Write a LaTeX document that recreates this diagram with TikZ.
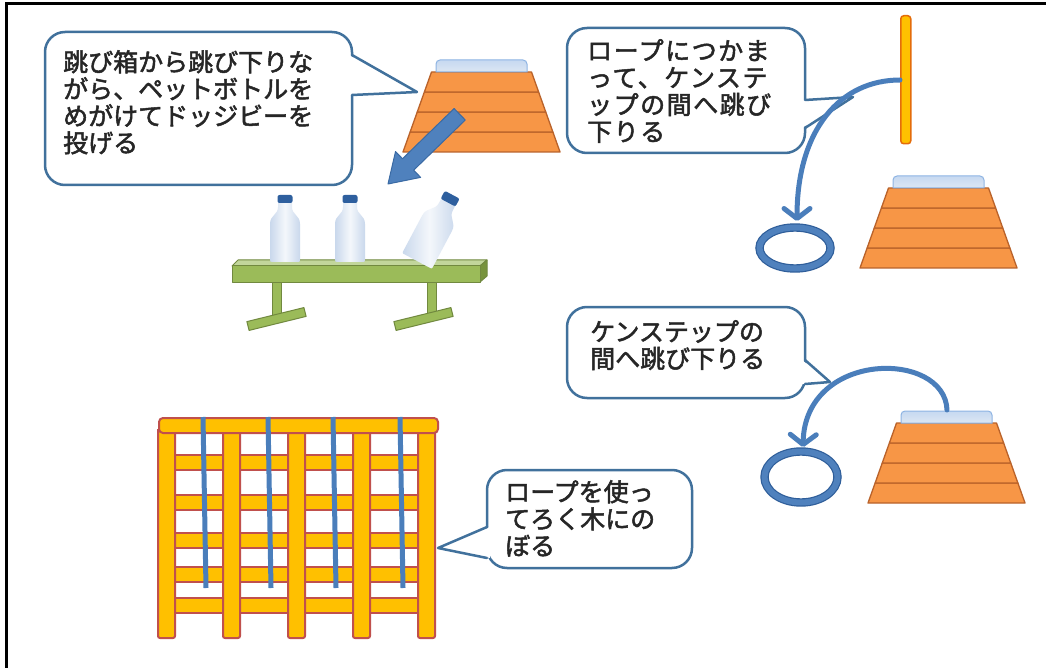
\documentclass[tikz,border=0pt]{standalone}
\usepackage{fontspec}
\newfontfamily\jpfont{Noto Sans CJK JP}[FakeBold=2]
\usetikzlibrary{arrows.meta}
\definecolor{bubbleblue}{HTML}{41719C}
\definecolor{arcblue}{HTML}{4A7EBB}
\definecolor{ringdark}{HTML}{2F5E9A}
\definecolor{ringblue}{HTML}{4F81BD}
\definecolor{layerfill}{HTML}{F79646}
\definecolor{layerline}{HTML}{B9622A}
\definecolor{cushiontop}{HTML}{C6D9F1}
\definecolor{cushionbot}{HTML}{DCE6F2}
\definecolor{cushionline}{HTML}{8EB4E3}
\definecolor{woodfill}{HTML}{FFC000}
\definecolor{woodline}{HTML}{C0504D}
\definecolor{poleline}{HTML}{E46C0A}
\definecolor{benchfront}{HTML}{9BBB59}
\definecolor{benchtop}{HTML}{C2D69B}
\definecolor{benchside}{HTML}{77933C}
\definecolor{benchline}{HTML}{71893F}
\definecolor{bottleedge}{HTML}{C9D8EC}
\definecolor{bottlemid}{HTML}{F4F7FB}
\definecolor{capblue}{HTML}{2E5F9E}
\definecolor{discfill}{HTML}{4F81BD}
\definecolor{discline}{HTML}{3A6AA4}
\tikzset{
  bubble/.style={draw=bubbleblue, line width=2.5pt, fill=white, rounded corners=20pt,
    inner sep=0pt, outer sep=0pt, anchor=north west},
  tailline/.style={draw=bubbleblue, line width=2.5pt, line join=round, line cap=round},
  jptext/.style={font=\jpfont\fontsize{25}{27}\selectfont, align=left, inner sep=0pt,
    anchor=north west, text=black!85},
  jumparc/.style={draw=arcblue, line width=5pt, line cap=round,
    -{Straight Barb[length=10pt,width=26pt,line cap=round,line join=round]}},
  hoop/.style={draw=ringdark, line width=1.2pt, double=ringblue, double distance=6pt},
  layer/.style={fill=layerfill, draw=layerline, line width=1.3pt, line join=round},
  cushion/.style={top color=cushiontop, bottom color=cushionbot, draw=cushionline, line width=1pt},
  wood/.style={fill=woodfill, draw=woodline, line width=2pt},
  rope/.style={draw=arcblue, line width=5pt},
  bench/.style={draw=benchline, line width=1pt, line join=round},
  vaultbox/.pic={
    \foreach \i in {0,...,3}{
      \pgfmathsetmacro\yb{-20*\i}
      \pgfmathsetmacro\yt{-20*(\i+1)}
      \pgfmathsetmacro\wb{78.5-7.125*\i}
      \pgfmathsetmacro\wt{78.5-7.125*(\i+1)}
      \path[layer] (-\wb,\yb) -- (\wb,\yb) -- (\wt,\yt) -- (-\wt,\yt) -- cycle;
    }
    \path[cushion] (-45.5,-80) -- (-45.5,-88) [rounded corners=4pt] -- (-45.5,-92) -- (45.5,-92)
      [sharp corners] -- (45.5,-88) -- (45.5,-80) -- cycle;
  },
  bottle/.pic={
    \path[left color=bottleedge, right color=bottleedge, middle color=bottlemid]
      (-15,-3) -- (-15,-38) .. controls (-15,-47) and (-7,-47) .. (-7,-55) -- (-7,-61)
      -- (7,-61) -- (7,-55) .. controls (7,-47) and (15,-47) .. (15,-38) -- (15,-3)
      .. controls (15,0) .. (12,0) -- (-12,0) .. controls (-15,0) .. (-15,-3) -- cycle;
    \fill[capblue, rounded corners=2pt] (-7.5,-59) rectangle (7.5,-67);
  }
}
\begin{document}
\begin{tikzpicture}[x=1pt, y=-1pt]
\useasboundingbox (0,0) rectangle (1046,668);
\fill[white] (0,0) rectangle (1046,668);
% outer frame (left and top edges)
\draw[line width=3pt] (6,668) -- (6,4) -- (1046,4);

% ---------- vaulting boxes ----------
\pic at (481.5,152) {vaultbox};
\pic at (938.5,268) {vaultbox};
\pic at (946.5,503) {vaultbox};

% ---------- bench ----------
\path[bench, fill=benchtop] (232,266) -- (238,260) -- (487,260) -- (480,266) -- cycle;
\path[bench, fill=benchside] (480,266) -- (487,260) -- (487,276) -- (480,282) -- cycle;
\path[bench, fill=benchfront] (232,266) rectangle (480,282);
\path[bench, fill=benchfront] (272,282) rectangle (281,318);
\path[bench, fill=benchfront] (427,282) rectangle (436,318);
\path[bench, fill=benchfront] (246.9,321.6) -- (303.9,307.6) -- (306.1,316.4) -- (249.1,330.4) -- cycle;
\path[bench, fill=benchfront] (393.9,321.6) -- (450.9,307.6) -- (453.1,316.4) -- (396.1,330.4) -- cycle;

% ---------- bottles ----------
\pic at (285,262) {bottle};
\pic at (350,262) {bottle};
\pic[rotate=-28, scale=1.12] at (417,261) {bottle};

% ---------- flying disc direction ----------
\begin{scope}[shift={(388,184)}, rotate=-135.8]
  \filldraw[fill=discfill, draw=discline, line width=1pt, line join=round]
    (0,0) -- (-28,18) -- (-28,8) -- (-100,8) -- (-100,-8) -- (-28,-8) -- (-28,-18) -- cycle;
\end{scope}

% ---------- callout 1 ----------
\node[bubble, minimum width=307pt, minimum height=153pt] (b1) at (45,32) {};
\coordinate (b1tip) at (417,92);
\fill[white] (349,55) -- (b1tip) -- (349,95) -- cycle;
\draw[tailline] (352,55) -- (b1tip) -- (352,95);
\node[jptext] (t1) at (63,50) {跳び箱から跳び下りな\\がら、ペットボトルを\\めがけてドッジビーを\\投げる};

% ---------- rope swing ----------
\node[wood, draw=poleline, line width=1.5pt, rounded corners=3pt, minimum width=10pt,
  minimum height=128pt, inner sep=0pt, anchor=north west] (pole) at (900,15) {};
\draw[hoop] (795,248) ellipse [x radius=35.5, y radius=20.5];
\coordinate (hoop1) at (797,221);
\node[bubble, minimum width=238pt, minimum height=125pt] (b2) at (567,28) {};
\coordinate (b2tip) at (853,97);
\fill[white] (802,100) -- (b2tip) -- (802,128) -- cycle;
\draw[tailline] (805,100) -- (b2tip) -- (805,128);
\node[jptext, font=\jpfont\addfontfeature{LetterSpace=6}\fontsize{25}{27}\selectfont] (t2) at (587,39)
  {ロープにつかま\\って、ケンステ\\ップの間へ跳び\\下りる};
\draw[jumparc] (pole.west |- 0,80) .. controls (840,80) and (797,130) .. (hoop1);

% ---------- jump from box ----------
\draw[hoop] (801,477) ellipse [x radius=36.5, y radius=25.5];
\coordinate (hoop2) at (803,447);
\coordinate (boxtop) at (947,410);
\node[bubble, minimum width=238pt, minimum height=91pt] (b3) at (567,307) {};
\coordinate (b3tip) at (830,382);
\fill[white] (802,360) -- (b3tip) -- (802,384) -- cycle;
\draw[tailline] (805,360) -- (b3tip) -- (805,384);
\node[jptext] (t3) at (590,320) {ケンステップの\\間へ跳び下りる};
\draw[jumparc] (boxtop) .. controls (945,350) and (805,350) .. (hoop2);

% ---------- climbing frame ----------
\foreach \y in {455,495,533,567,598}{
  \path[wood] (170,\y) rectangle (423,\y+15);
}
\foreach \x in {158,223,288,353,418}{
  \path[wood] (\x,430) [rounded corners=2pt] -- (\x,638) -- (\x+17,638) [sharp corners] -- (\x+17,430) -- cycle;
}
\node[wood, rounded corners=4pt, minimum width=279pt, minimum height=15pt, inner sep=0pt,
  anchor=north west] (frame) at (158,417) {};
\foreach \x in {203,268,333,400}{
  \draw[rope] (\x,417) -- (\x+3,588);
}

% ---------- callout 4 ----------
\node[bubble, minimum width=205pt, minimum height=98pt] (b4) at (487,470) {};
\coordinate (b4tip) at (438,548);
\fill[white] (490,527) -- (b4tip) -- (490,558) -- cycle;
\draw[tailline] (487,527) -- (b4tip) -- (487,558);
\node[jptext] (t4) at (505,480) {ロープを使っ\\てろく木にの\\ぼる};
\end{tikzpicture}
\end{document}
